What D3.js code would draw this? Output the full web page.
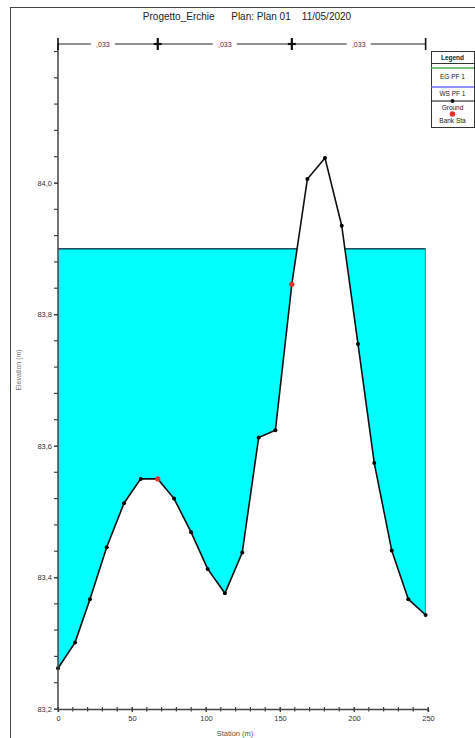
<!DOCTYPE html>
<html>
<head>
<meta charset="utf-8">
<script src="https://cdn.jsdelivr.net/npm/d3@7"></script>
<style>
  body { margin: 0; background: #fff; }
  svg { display: block; font-family: "Liberation Sans", Arial, sans-serif; }
</style>
</head>
<body>
<div id="chart"></div>
<script>
// ground profile
const stations = [0, 11.5, 21.6, 32.9, 44.6, 55.9, 67.4, 78.4, 89.9, 101.1, 112.8, 124.5, 135.6, 146.9, 158.0, 168.5, 180.4, 191.7, 202.7, 213.7, 225.5, 236.7, 248.4];
const elevations = [83.262, 83.301, 83.367, 83.446, 83.513, 83.550, 83.550, 83.520, 83.469, 83.413, 83.376, 83.438, 83.613, 83.624, 83.846, 84.006, 84.038, 83.935, 83.755, 83.574, 83.441, 83.367, 83.343];
const bankStations = [67.4, 158.0];
const bankElevations = [83.550, 83.846];
const wsElevation = 83.9;
const egElevation = 83.9;
const manningN = [',033', ',033', ',033'];
const xTicks = [0, 50, 100, 150, 200, 250];
const yTicks = [83.2, 83.4, 83.6, 83.8, 84.0];
const legendLabels = ['EG PF 1', 'WS PF 1', 'Ground', 'Bank Sta'];
const titleText = 'Progetto_Erchie      Plan: Plan 01    11/05/2020';

const W = 475, H = 738;
const data = stations.map((s, i) => ({ s, z: elevations[i] }));

const x = d3.scaleLinear().domain([0, 250]).range([58, 428]);
const y = d3.scaleLinear().domain([83.2, 84.2]).range([709, 51.5]);
const comma = d3.formatLocale({ decimal: ',', thousands: '.', grouping: [3], currency: ['', ''] }).format('.1f');

const svg = d3.select('#chart').append('svg').attr('width', W).attr('height', H);

// outer frame
svg.append('rect')
  .attr('x', 10.5).attr('y', 7.5).attr('width', 480).attr('height', 750)
  .attr('fill', 'none').attr('stroke', '#444').attr('stroke-width', 1);

// title
svg.append('text')
  .attr('x', 247).attr('y', 20)
  .attr('text-anchor', 'middle').attr('font-size', 10).attr('fill', '#222')
  .attr('xml:space', 'preserve').style('white-space', 'pre')
  .text(titleText);

// clip: everything above the ground line
const clip = svg.append('defs').append('clipPath').attr('id', 'aboveGround');
clip.append('path')
  .attr('d', d3.area().x(d => x(d.s)).y0(0).y1(d => y(d.z))(data));

const xFirst = x(stations[0]), xLast = x(stations[stations.length - 1]);

// water
svg.append('rect')
  .attr('clip-path', 'url(#aboveGround)')
  .attr('x', xFirst).attr('y', y(wsElevation))
  .attr('width', xLast - xFirst).attr('height', y(83.2) - y(wsElevation))
  .attr('fill', '#00ffff');

// water outline (right edge) and surface lines
svg.append('line')
  .attr('clip-path', 'url(#aboveGround)')
  .attr('x1', xLast).attr('x2', xLast).attr('y1', y(wsElevation)).attr('y2', y(83.2))
  .attr('stroke', '#1d5f66').attr('stroke-width', 1.5);
svg.append('line')
  .attr('clip-path', 'url(#aboveGround)')
  .attr('x1', xFirst).attr('x2', xLast).attr('y1', y(egElevation)).attr('y2', y(egElevation))
  .attr('stroke', '#2a8a3a').attr('stroke-width', 1);
svg.append('line')
  .attr('clip-path', 'url(#aboveGround)')
  .attr('x1', xFirst).attr('x2', xLast).attr('y1', y(wsElevation)).attr('y2', y(wsElevation))
  .attr('stroke', '#1d4f6a').attr('stroke-width', 1.3);

// ground line + points
svg.append('path')
  .attr('d', d3.line().x(d => x(d.s)).y(d => y(d.z))(data))
  .attr('fill', 'none').attr('stroke', '#111').attr('stroke-width', 1.6);
svg.selectAll('.gpt').data(data).enter().append('circle')
  .attr('class', 'gpt')
  .attr('cx', d => x(d.s)).attr('cy', d => y(d.z)).attr('r', 2)
  .attr('fill', '#000');
svg.selectAll('.bank').data(bankStations).enter().append('circle')
  .attr('class', 'bank')
  .attr('cx', d => x(d)).attr('cy', (d, i) => y(bankElevations[i])).attr('r', 2.6)
  .attr('fill', '#e8302a');

// axes
const axisColor = '#444';
const yAxis = svg.append('g')
  .attr('transform', `translate(${x(0)},0)`)
  .call(d3.axisLeft(y).tickValues(yTicks).tickFormat(comma).tickSize(4).tickPadding(2));
const xAxis = svg.append('g')
  .attr('transform', `translate(0,${y(83.2)})`)
  .call(d3.axisBottom(x).tickValues(xTicks).tickFormat(d3.format('d')).tickSize(3).tickPadding(4));
[xAxis, yAxis].forEach(g => {
  g.select('.domain').attr('stroke', axisColor).attr('stroke-width', 1.5);
  g.selectAll('.tick line').attr('stroke', axisColor);
  g.selectAll('.tick text').attr('fill', '#333').attr('font-size', 7.5).attr('font-family', '"Liberation Sans", Arial, sans-serif');
});
xAxis.selectAll('.tick line').attr('y1', -2).attr('y2', 3);
yAxis.select('.domain').attr('d', `M0,${y(84.2) - 8}V${y(83.2)}`);

// minor ticks
svg.append('g').selectAll('line').data(d3.range(0, 251, 10)).enter().append('line')
  .attr('x1', d => x(d)).attr('x2', d => x(d))
  .attr('y1', y(83.2) - 2).attr('y2', y(83.2) + 2.5)
  .attr('stroke', axisColor).attr('stroke-width', 1.2);
svg.append('g').selectAll('line').data(d3.range(0, 26).map(i => 83.2 + i * 0.04)).enter().append('line')
  .attr('x1', x(0) - 4).attr('x2', x(0))
  .attr('y1', d => y(d)).attr('y2', d => y(d))
  .attr('stroke', axisColor).attr('stroke-width', 1.2);

// axis titles
svg.append('text')
  .attr('x', 235).attr('y', 736).attr('text-anchor', 'middle')
  .attr('font-size', 7.5).attr('fill', '#555').text('Station (m)');
svg.append('text')
  .attr('transform', `translate(21,${370}) rotate(-90)`)
  .attr('text-anchor', 'middle').attr('font-size', 7).attr('fill', '#777')
  .text('Elevation (m)');

// Manning's n bar
const nBreaks = [stations[0], bankStations[0], bankStations[1], stations[stations.length - 1]];
const barY = 44;
const bar = svg.append('g');
manningN.forEach((n, i) => {
  const a = x(nBreaks[i]), b = x(nBreaks[i + 1]);
  const mid = (a + b) / 2 - (i === 0 ? 5 : 0);
  bar.append('line').attr('x1', a).attr('x2', mid - 12).attr('y1', barY).attr('y2', barY)
    .attr('stroke', '#222').attr('stroke-width', 1.2);
  bar.append('line').attr('x1', mid + 12).attr('x2', b).attr('y1', barY).attr('y2', barY)
    .attr('stroke', '#222').attr('stroke-width', 1.2);
  bar.append('text').attr('x', mid).attr('y', barY + 2.5).attr('text-anchor', 'middle')
    .attr('font-size', 7).attr('fill', '#333').text(n);
});
nBreaks.forEach((s, i) => {
  const inner = i > 0 && i < nBreaks.length - 1;
  bar.append('line').attr('x1', x(s)).attr('x2', x(s)).attr('y1', barY - 6).attr('y2', barY + 6)
    .attr('stroke', '#111').attr('stroke-width', inner ? 2.2 : 1.6);
  if (inner) {
    bar.append('line').attr('x1', x(s) - 4).attr('x2', x(s) + 4).attr('y1', barY).attr('y2', barY)
      .attr('stroke', '#111').attr('stroke-width', 2.2);
  }
});

// legend
const lg = svg.append('g').attr('transform', 'translate(431,51)');
const lgW = 43;
lg.append('rect').attr('x', 0.5).attr('y', 0.5).attr('width', lgW).attr('height', 76)
  .attr('fill', '#fff').attr('stroke', '#333').attr('stroke-width', 1);
lg.append('text').attr('x', lgW / 2).attr('y', 9).attr('text-anchor', 'middle')
  .attr('font-size', 6.5).attr('font-weight', 'bold').attr('fill', '#222').text('Legend');
lg.append('line').attr('x1', 0).attr('x2', lgW).attr('y1', 12.5).attr('y2', 12.5).attr('stroke', '#333').attr('stroke-width', 1.2);
const rows = [
  { sym: 'line', color: '#4caf50', ly: 17, ty: 28 },
  { sym: 'line', color: '#6a6af0', ly: 36, ty: 45 },
  { sym: 'ground', color: '#111', ly: 50, ty: 59 },
  { sym: 'dot', color: '#e8302a', ly: 63, ty: 72 }
];
rows.forEach((r, i) => {
  if (r.sym !== 'dot') {
    lg.append('line').attr('x1', 0).attr('x2', lgW).attr('y1', r.ly).attr('y2', r.ly)
      .attr('stroke', r.color).attr('stroke-width', r.sym === 'ground' ? 1.2 : 1.5);
  }
  if (r.sym !== 'line') {
    lg.append('circle').attr('cx', lgW / 2).attr('cy', r.ly).attr('r', r.sym === 'dot' ? 2.8 : 2)
      .attr('fill', r.color);
  }
  lg.append('text').attr('x', lgW / 2).attr('y', r.ty).attr('text-anchor', 'middle')
    .attr('font-size', 6.5).attr('fill', '#222').text(legendLabels[i]);
});
</script>
</body>
</html>
